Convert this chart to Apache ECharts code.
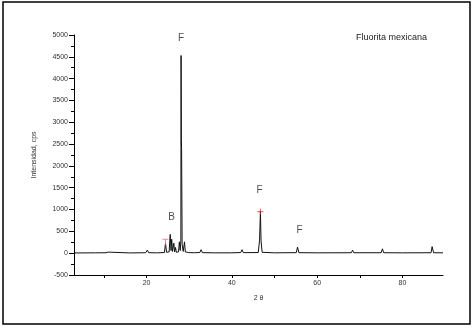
<!DOCTYPE html>
<html>
<head>
<meta charset="utf-8">
<script src="https://cdn.jsdelivr.net/npm/echarts@6/dist/echarts.min.js"></script>
<style>html,body{margin:0;padding:0;background:#fff}#c{width:476px;height:328px}</style>
</head>
<body>
<div id="c"></div>
<script>
const twoTheta = [3,8,10.5,11,11.3,11.6,12,16,19.8,20.2,20.5,22.0,22.3,22.6,24.2,24.45,24.7,25.3,25.55,25.75,25.9,26.1,26.4,26.6,26.8,27.0,27.5,27.7,27.9,28.05,28.1,28.17,28.22,28.35,28.6,28.9,29.1,29.8,30.1,30.4,31.3,31.5,31.7,32.5,32.8,33.1,36,40,42.1,42.4,42.7,46.2,46.5,46.7,46.85,47.1,50,55.1,55.4,55.7,60,68.0,68.3,68.6,75.0,75.3,75.6,80,86.7,86.95,87.1,87.3,89.5];
const intensity = [5,8,10,25,12,22,8,6,10,70,12,8,35,8,15,230,20,30,430,60,320,40,230,30,130,20,30,260,60,300,4530,2600,2400,200,40,260,30,15,50,12,10,30,10,15,80,12,8,8,15,80,12,15,300,950,280,20,8,12,140,12,8,10,70,10,10,100,10,8,10,150,140,10,8];

// peak annotations
const peakLabels = ['F', 'B', 'F', 'F'];
const peakLabelX = [28.1, 25.9, 46.5, 55.9];
const peakLabelY = [4930, 826, 1445, 528];

// red markers
const plusMarkX = [46.7];
const plusMarkY = [950];
const teeMarkX = [24.45];
const teeMarkY = [250];

const yTicks = [-500,0,500,1000,1500,2000,2500,3000,3500,4000,4500,5000];
const xLabelValues = [20,40,60,80];
const xTickValues = [10,20,30,40,50,60,70,80];

const title = 'Fluorita mexicana';
const xName = '2 θ';
const yName = 'Intensidad, cps';

const font = 'Liberation Sans';
const chart = echarts.init(document.getElementById('c'), null, {renderer: 'canvas'});
chart.setOption({
  animation: false,
  backgroundColor: '#fff',
  grid: {left: 74, right: 33, top: 35, bottom: 53},
  xAxis: {
    type: 'value', min: 3, max: 89.5,
    name: xName, nameLocation: 'middle', nameGap: 20,
    nameTextStyle: {fontFamily: font, fontSize: 7, color: '#333'},
    axisLine: {onZero: false, lineStyle: {color: '#000', width: 1}},
    axisTick: {show: true, customValues: xTickValues, length: 3, lineStyle: {color: '#000'}},
    axisLabel: {customValues: xLabelValues, fontFamily: font, fontSize: 7, color: '#333', margin: 5},
    splitLine: {show: false}
  },
  yAxis: {
    type: 'value', min: -500, max: 5000, interval: 500,
    name: yName, nameLocation: 'middle', nameGap: 36, nameRotate: 90,
    nameTextStyle: {fontFamily: font, fontSize: 7, color: '#333'},
    axisLine: {show: true, lineStyle: {color: '#000', width: 1}},
    axisTick: {show: true, length: 5, lineStyle: {color: '#000'}},
    minorTick: {show: true, splitNumber: 2, length: 3, lineStyle: {color: '#000'}},
    axisLabel: {fontFamily: font, fontSize: 7, color: '#333', margin: 6, formatter: v => String(v)},
    splitLine: {show: false}
  },
  series: [
    {
      type: 'line', symbol: 'none', sampling: null, smooth: false,
      data: twoTheta.map((t, i) => [t, intensity[i]]),
      lineStyle: {color: '#111', width: 1},
      z: 2
    },
    {
      type: 'scatter', symbolSize: 0,
      data: peakLabelX.map((x, i) => ({value: [x, peakLabelY[i]], label: {formatter: peakLabels[i]}})),
      label: {show: true, position: 'inside', fontFamily: font, fontSize: 10, color: '#222'},
      z: 3
    },
    {
      type: 'scatter', symbol: 'path://M0,5 L10,5 M5,0 L5,10', symbolSize: 6,
      data: plusMarkX.map((x, i) => [x, plusMarkY[i]]),
      itemStyle: {color: 'none', borderColor: '#e02020', borderWidth: 1},
      z: 4
    },
    {
      type: 'scatter', symbol: 'path://M0,0 L10,0 M5,0 L5,10', symbolSize: 6,
      data: teeMarkX.map((x, i) => [x, teeMarkY[i]]),
      itemStyle: {color: 'none', borderColor: '#e07080', borderWidth: 1},
      z: 4
    }
  ],
  graphic: [
    {type: 'rect', shape: {x: 3, y: 2, width: 467, height: 322}, style: {fill: 'none', stroke: '#000', lineWidth: 1.5}, silent: true},
    {type: 'text', left: 356, top: 33, style: {text: title, fontFamily: font, fontSize: 9, fill: '#222'}}
  ]
});
</script>
</body>
</html>
